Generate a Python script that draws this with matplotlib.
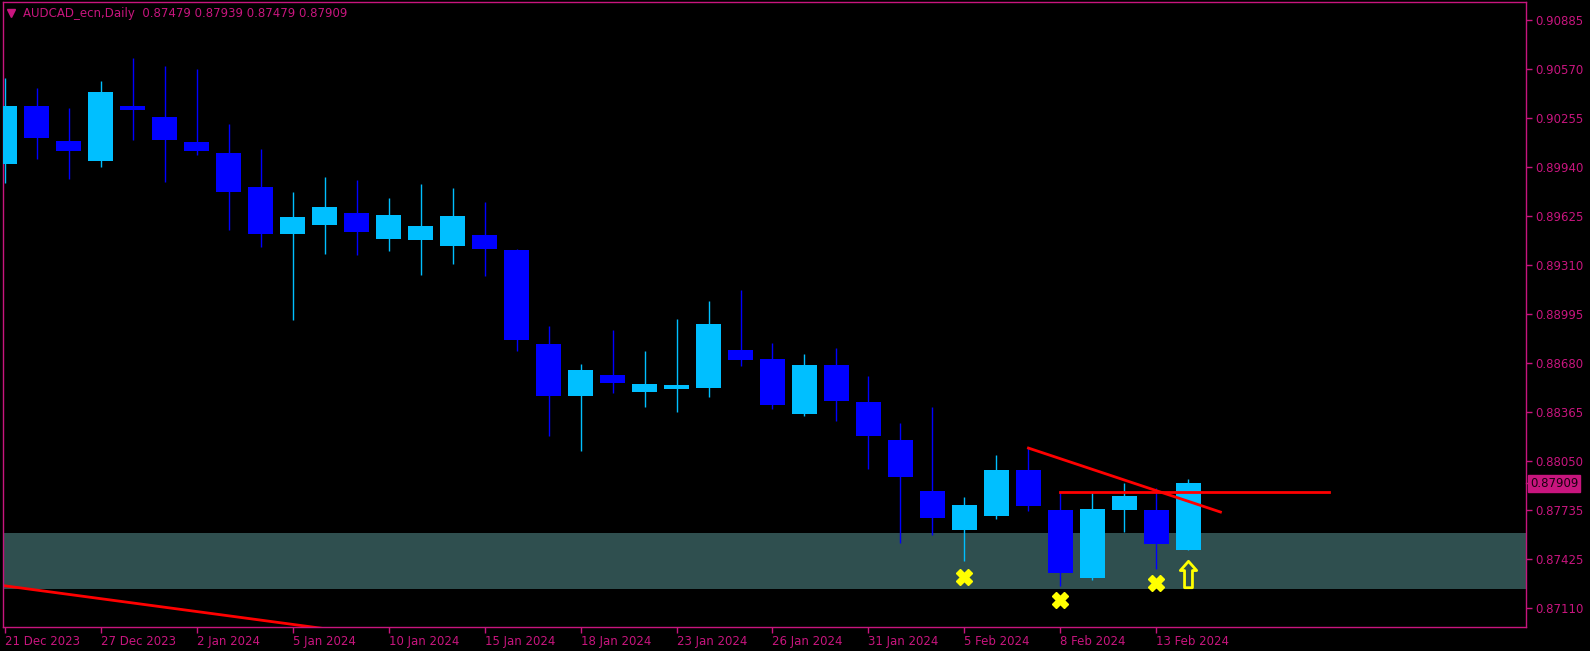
import matplotlib
matplotlib.use("Agg")
import matplotlib.pyplot as plt
from matplotlib.path import Path
import numpy as np

# daily AUDCAD candles
dates = ['21 Dec 2023', '22 Dec 2023', '26 Dec 2023', '27 Dec 2023', '28 Dec 2023', '29 Dec 2023',
         '2 Jan 2024', '3 Jan 2024', '4 Jan 2024', '5 Jan 2024', '8 Jan 2024', '9 Jan 2024',
         '10 Jan 2024', '11 Jan 2024', '12 Jan 2024', '15 Jan 2024', '16 Jan 2024', '17 Jan 2024',
         '18 Jan 2024', '19 Jan 2024', '22 Jan 2024', '23 Jan 2024', '24 Jan 2024', '25 Jan 2024',
         '26 Jan 2024', '29 Jan 2024', '30 Jan 2024', '31 Jan 2024', '1 Feb 2024', '2 Feb 2024',
         '5 Feb 2024', '6 Feb 2024', '7 Feb 2024', '8 Feb 2024', '9 Feb 2024', '12 Feb 2024',
         '13 Feb 2024', '14 Feb 2024']

opens = [0.89963, 0.90334, 0.90109, 0.89983, 0.90334, 0.90264, 0.90103, 0.90032, 0.89814, 0.89514,
         0.89571, 0.89647, 0.89481, 0.89475, 0.89436, 0.89505, 0.89409, 0.88805, 0.88472, 0.88605,
         0.88498, 0.88517, 0.88524, 0.88766, 0.88708, 0.88357, 0.88670, 0.88432, 0.88188, 0.87860,
         0.87611, 0.87701, 0.87995, 0.87738, 0.87303, 0.87740, 0.87738, 0.87479]
highs = [0.90512, 0.90450, 0.90321, 0.90495, 0.90643, 0.90591, 0.90572, 0.90219, 0.90058, 0.89782,
         0.89878, 0.89859, 0.89743, 0.89833, 0.89807, 0.89717, 0.89415, 0.88920, 0.88676, 0.88895,
         0.88760, 0.88965, 0.89081, 0.89152, 0.88811, 0.88740, 0.88779, 0.88599, 0.88297, 0.88400,
         0.87821, 0.88091, 0.88136, 0.87855, 0.87855, 0.87913, 0.87879, 0.87939]
lows = [0.89841, 0.89996, 0.89865, 0.89944, 0.90118, 0.89848, 0.90021, 0.89539, 0.89430, 0.88961,
        0.89385, 0.89379, 0.89404, 0.89250, 0.89321, 0.89244, 0.88762, 0.88215, 0.88117, 0.88490,
        0.88402, 0.88370, 0.88466, 0.88665, 0.88387, 0.88344, 0.88312, 0.88003, 0.87526, 0.87580,
        0.87412, 0.87682, 0.87733, 0.87251, 0.87290, 0.87598, 0.87361, 0.87479]
closes = [0.90334, 0.90130, 0.90045, 0.90424, 0.90309, 0.90118, 0.90045, 0.89784, 0.89514, 0.89621,
          0.89685, 0.89526, 0.89634, 0.89563, 0.89627, 0.89417, 0.88832, 0.88472, 0.88638, 0.88554,
          0.88548, 0.88541, 0.88933, 0.88704, 0.88413, 0.88670, 0.88438, 0.88215, 0.87952, 0.87688,
          0.87770, 0.87995, 0.87766, 0.87333, 0.87744, 0.87828, 0.87521, 0.87909]

yticks = [0.90885, 0.90570, 0.90255, 0.89940, 0.89625, 0.89310, 0.88995,
          0.88680, 0.88365, 0.88050, 0.87735, 0.87425, 0.87110]

# zone + lines drawn on the chart
zone = (0.87228, 0.87592)
trend_x = [32, 38]
trend_y = [0.88136, 0.87725]
level_x = [33, 41.4]
level_y = [0.87855, 0.87855]
old_trend_x = [-2, 14]
old_trend_y = [0.87306, 0.86865]
cross_x = [30, 33, 36]
cross_y = [0.87309, 0.87158, 0.87271]
arrow_x = [37]
arrow_y = [0.87329]

FG = '#C8157E'
BULL = '#00BFFF'
BEAR = '#0000FF'

fig = plt.figure(figsize=(15.9, 6.51), dpi=100, facecolor='black')
ax = fig.add_axes([3 / 1590, 24 / 651, 1523 / 1590, 625 / 651])
ax.set_facecolor('black')
ax.set_xlim(-0.05, 47.55)
ax.set_ylim(0.86986, 0.91003)

ax.axhspan(zone[0], zone[1], color='#2F4F4F', zorder=0, lw=0)
ax.plot(old_trend_x, old_trend_y, color='red', lw=2, zorder=1)

x = np.arange(len(dates))
o = np.array(opens)
c = np.array(closes)
cols = [BULL if cc >= oo else BEAR for oo, cc in zip(o, c)]
bottoms = np.minimum(o, c)
heights = np.maximum(np.abs(c - o), 0.00006)
ax.vlines(x, lows, highs, colors=cols, lw=1, zorder=2)
ax.bar(x, heights, bottom=bottoms, width=0.78, color=cols, lw=0, zorder=3)

ax.plot(trend_x, trend_y, color='red', lw=2, zorder=4)
ax.plot(level_x, level_y, color='red', lw=2, zorder=4)

ax.plot(cross_x, cross_y, ls='none', marker='X', ms=11, mfc='#FFFF00', mec='#FFFF00', zorder=5)
arrow = Path([(0, 1), (0.62, 0.3), (0.3, 0.3), (0.3, -1), (-0.3, -1), (-0.3, 0.3), (-0.62, 0.3), (0, 1)],
             [Path.MOVETO] + [Path.LINETO] * 6 + [Path.CLOSEPOLY])
ax.plot(arrow_x, arrow_y, ls='none', marker=arrow, ms=19, mfc='none', mec='#FFFF00', mew=2, zorder=5)

for s in ax.spines.values():
    s.set_color(FG)
    s.set_linewidth(1)

ax.yaxis.tick_right()
ax.set_yticks(yticks)
ax.set_yticklabels(['%.5f' % v for v in yticks])
ax.set_xticks(x[::3])
ax.set_xticklabels([dates[i] for i in x[::3]], ha='left')
ax.tick_params(colors=FG, labelcolor=FG, length=4, width=1, labelsize=8.5)
ax.tick_params(axis='y', pad=3)
ax.tick_params(axis='x', pad=2)

# current price tag
ax.annotate('%.5f' % closes[-1], xy=(1.0, closes[-1]), xycoords=('axes fraction', 'data'),
            xytext=(3, 0), textcoords='offset points', va='center', ha='left', fontsize=8.5,
            color='#1a0010', bbox=dict(boxstyle='square,pad=0.15', fc=FG, ec=FG), annotation_clip=False)
ax.plot([1.0, 1.003], [closes[-1]] * 2, color=FG, lw=1, transform=ax.get_yaxis_transform(), clip_on=False)

# header
ax.plot([0.0055], [0.982], marker='v', ms=6, color=FG, transform=ax.transAxes, clip_on=False)
ax.text(0.013, 0.982, 'AUDCAD_ecn,Daily  %.5f %.5f %.5f %.5f' % (opens[-1], highs[-1], lows[-1], closes[-1]),
        transform=ax.transAxes, color=FG, fontsize=8.5, va='center', ha='left')

fig.savefig('out.png', dpi=100, facecolor='black')
